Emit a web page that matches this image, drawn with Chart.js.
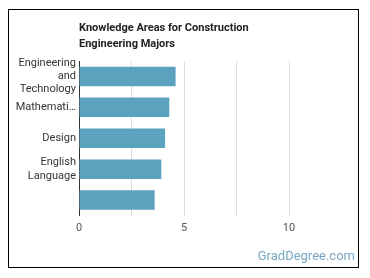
<!DOCTYPE html>
<html>
<head>
<meta charset="utf-8">
<script src="https://cdn.jsdelivr.net/npm/chart.js@4"></script>
<style>
  body { margin: 0; background: #fff; }
  #wrap { position: relative; width: 370px; height: 278px; }
  #frame { position: absolute; left: 8px; top: 9px; width: 349px; height: 257px; border: 1px solid #000; }
  #title { position: absolute; left: 79px; top: 20px; font: bold 11px Roboto, sans-serif; line-height: 16px; color: #222; }
  #mark { position: absolute; right: 15px; top: 248px; font: 13px Roboto, sans-serif; color: #7aa8c4; }
  canvas { position: absolute; left: 0; top: 0; }
</style>
</head>
<body>
<div id="wrap">
  <div id="frame"></div>
  <canvas id="chart" width="370" height="278"></canvas>
  <div id="title">Knowledge Areas for Construction<br>Engineering Majors</div>
  <div id="mark">GradDegree.com</div>
</div>
<script>
const categories = [["Engineering", "and", "Technology"], "Mathemati…", "Design", ["English", "Language"], ""]
const values = [4.6, 4.3, 4.1, 3.92, 3.6]
const tickLabels = [0, 5, 10]

const ctx = document.getElementById("chart")

new Chart(ctx, {
    type: "bar",
    data: {
        labels: categories,
        datasets: [{
            label: "Knowledge",
            data: values,
            backgroundColor: "#5ba2bf",
            barPercentage: 0.63,
            categoryPercentage: 1
        }]
    },
    options: {
        indexAxis: "y",
        responsive: false,
        animation: false,
        layout: { padding: { left: 0, top: 61, right: 28.5, bottom: 42.5 } },
        plugins: { legend: { display: false }, tooltip: { enabled: false } },
        scales: {
            x: {
                min: 0,
                max: 12.5,
                border: { display: false },
                grid: {
                    drawTicks: false,
                    color: c => (c.tick && c.tick.value === 12.5) ? "transparent" : "#dcdcdc"
                },
                ticks: {
                    stepSize: 2.5,
                    padding: 6,
                    color: "#555",
                    font: { family: "Roboto", size: 11 },
                    callback: v => tickLabels.includes(v) ? v : ""
                },
                afterFit: s => { s.height = 20 }
            },
            y: {
                border: { display: true, color: "#333", width: 1 },
                grid: { display: false, drawTicks: false },
                ticks: {
                    autoSkip: false,
                    padding: 3,
                    color: "#333",
                    font: { family: "Roboto", size: 11, lineHeight: 1.2 }
                },
                afterFit: s => { s.width = 79 }
            }
        }
    }
})
</script>
</body>
</html>
